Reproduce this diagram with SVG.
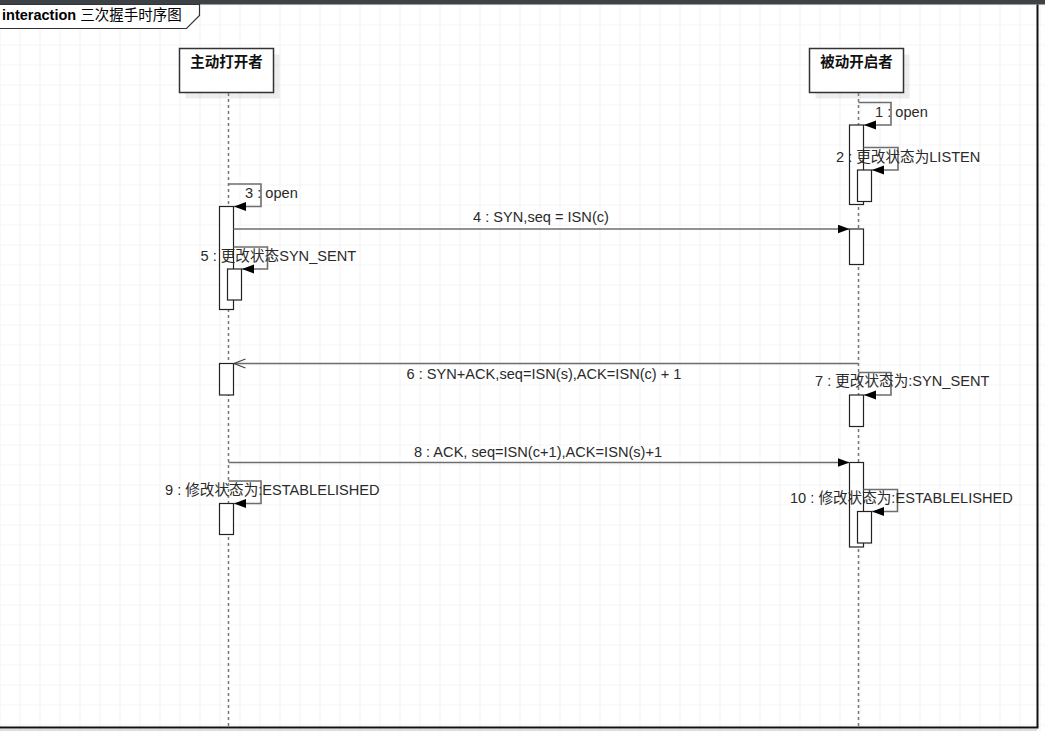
<svg xmlns="http://www.w3.org/2000/svg" width="1045" height="732" viewBox="0 0 1045 732">
<defs>
<pattern id="grid" x="19.5" y="4.5" width="20" height="20" patternUnits="userSpaceOnUse">
<path d="M0 0 H20 M0 0 V20" fill="none" stroke="#ebebeb" stroke-width="1.2"/>
</pattern>
<marker id="fill" markerUnits="userSpaceOnUse" markerWidth="13" markerHeight="10" refX="12" refY="4.5" orient="auto">
<path d="M0 0 L12 4.5 L0 9 z" fill="#000"/>
</marker>
<marker id="open" markerUnits="userSpaceOnUse" markerWidth="13" markerHeight="12" refX="11.5" refY="5" orient="auto">
<path d="M0 0.5 L11.5 5 L0 9.5" fill="none" stroke="#444" stroke-width="1.3"/>
</marker>
</defs>
<style>
.lbl{font-family:"Liberation Sans","Noto Sans CJK SC",sans-serif;font-size:14.6px;fill:#2a2a2a}
.head{font-family:"Liberation Sans","Noto Sans CJK SC",sans-serif;font-size:14.5px;font-weight:bold;fill:#111}
.life{stroke:#777;stroke-width:1.5;stroke-dasharray:3 3;fill:none}
.act{fill:#fff;stroke:#222;stroke-width:1.2}
.msg{fill:none;stroke:#6e6e6e;stroke-width:1.6}
.box{fill:#fff;stroke:#333;stroke-width:1.5}
</style>
<rect x="0" y="0" width="1045" height="732" fill="#fff"/>
<rect x="0" y="0" width="1045" height="732" fill="url(#grid)"/>
<rect x="0" y="0" width="1045" height="4.5" fill="#3c4245"/>
<g id="frame">
<path d="M1037.5 4.5 V727.5 H0" fill="none" stroke="#111" stroke-width="2"/>
<path d="M0 730 H1037" stroke="#bbb" stroke-width="1"/>
<path d="M0 4.5 H199.5 V15.5 L186.5 28.5 H0" fill="#fff" stroke="#333" stroke-width="1.2"/>
<text x="2" y="20" class="lbl" style="font-size:14.5px"><tspan font-weight="bold" fill="#000">interaction</tspan><tspan fill="#000"> 三次握手时序图</tspan></text>
</g>
<g id="lifeline-client">
<rect x="185.5" y="54.5" width="94" height="44" fill="#000" opacity="0.07"/>
<rect x="179.5" y="48.5" width="94" height="44" class="box"/>
<text x="226.5" y="67" text-anchor="middle" class="head">主动打开者</text>
<path d="M228.5 93 V727" class="life"/>
</g>
<g id="lifeline-server">
<rect x="815.5" y="54.5" width="94" height="44" fill="#000" opacity="0.07"/>
<rect x="809.5" y="48.5" width="94" height="44" class="box"/>
<text x="856.5" y="67" text-anchor="middle" class="head">被动开启者</text>
<path d="M858.5 93 V727" class="life"/>
</g>
<g id="activations">
<rect x="849.5" y="125" width="14" height="79.5" class="act"/>
<rect x="857.5" y="170" width="14" height="31.5" class="act"/>
<rect x="219.5" y="206.5" width="14" height="103" class="act"/>
<rect x="227.5" y="269" width="14" height="31" class="act"/>
<rect x="849.5" y="229" width="14" height="35.5" class="act"/>
<rect x="219.5" y="363.5" width="14" height="31.5" class="act"/>
<rect x="849.5" y="395" width="14" height="31.5" class="act"/>
<rect x="849.5" y="462.5" width="14" height="84.5" class="act"/>
<rect x="219.5" y="503.5" width="14" height="31" class="act"/>
<rect x="857.5" y="511.5" width="14" height="31.5" class="act"/>
</g>
<g id="connectors">
<path d="M858.5 102.5 H891 V125 H864" class="msg" marker-end="url(#fill)"/>
<path d="M863.5 147.5 H898 V170 H872" class="msg" marker-end="url(#fill)"/>
<path d="M228.5 184 H261 V206.5 H234" class="msg" marker-end="url(#fill)"/>
<path d="M233.5 229 H849.5" class="msg" marker-end="url(#fill)"/>
<path d="M233.5 247 H267.5 V269 H242" class="msg" marker-end="url(#fill)"/>
<path d="M858.5 363.5 H234" class="msg" marker-end="url(#open)"/>
<path d="M858.5 372.5 H891 V395 H864" class="msg" marker-end="url(#fill)"/>
<path d="M228.5 462.5 H849.5" class="msg" marker-end="url(#fill)"/>
<path d="M228.5 481 H261 V503.5 H234" class="msg" marker-end="url(#fill)"/>
<path d="M863.5 489.5 H897.5 V511.5 H872" class="msg" marker-end="url(#fill)"/>
</g>
<g id="labels">
<text x="875" y="117" class="lbl">1 : open</text>
<text x="836" y="162" class="lbl">2 : 更改状态为LISTEN</text>
<text x="245" y="198" class="lbl">3 : open</text>
<text x="541" y="222" text-anchor="middle" class="lbl">4 : SYN,seq = ISN(c)</text>
<text x="200.5" y="261" class="lbl">5 : 更改状态SYN_SENT</text>
<text x="544" y="379" text-anchor="middle" class="lbl">6 : SYN+ACK,seq=ISN(s),ACK=ISN(c) + 1</text>
<text x="815" y="386" class="lbl">7 : 更改状态为:SYN_SENT</text>
<text x="538" y="457" text-anchor="middle" class="lbl">8 : ACK, seq=ISN(c+1),ACK=ISN(s)+1</text>
<text x="165" y="495" class="lbl">9 : 修改状态为:ESTABLELISHED</text>
<text x="790" y="503" class="lbl">10 : 修改状态为:ESTABLELISHED</text>
</g>
</svg>
